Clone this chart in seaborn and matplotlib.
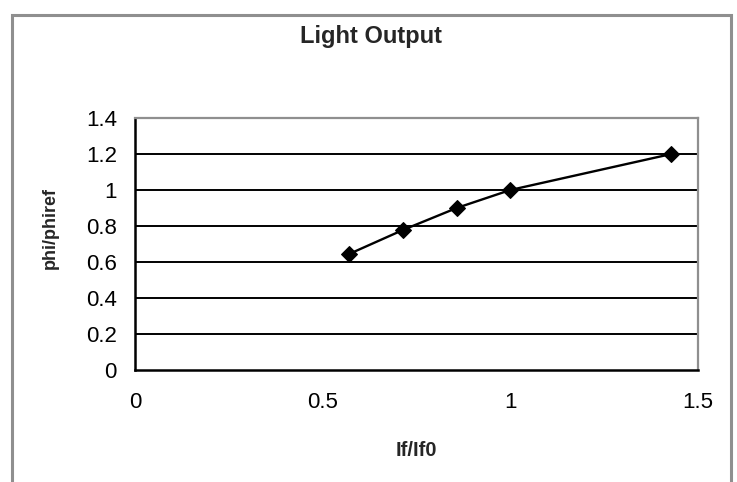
import numpy as np
import pandas as pd
import matplotlib.pyplot as plt
import seaborn as sns
from matplotlib.patches import Rectangle

# values
if_ratio = [0.571, 0.714, 0.857, 1.0, 1.429]
phi_ratio = [0.645, 0.778, 0.9, 1.0, 1.2]
x_ticks = [0, 0.5, 1, 1.5]
y_ticks = [0, 0.2, 0.4, 0.6, 0.8, 1, 1.2, 1.4]
x_labels = ['0', '0.5', '1', '1.5']
y_labels = ['0', '0.2', '0.4', '0.6', '0.8', '1', '1.2', '1.4']

data = pd.DataFrame({'If/If0': if_ratio, 'phi/phiref': phi_ratio})

sns.set_style('white')
plt.rcParams['font.family'] = ['Liberation Sans', 'DejaVu Sans']

fig = plt.figure(figsize=(7.37, 4.82), dpi=100)
ax = fig.add_axes([135 / 737, 1 - 370 / 482, 563 / 737, 252 / 482])

# outer chart border (Excel style)
fig.patches.append(Rectangle((12 / 737, -0.05), 719 / 737, 1.05 - 15 / 482,
                             transform=fig.transFigure, fill=False,
                             edgecolor='#8f8f8f', linewidth=2.2))

# horizontal gridlines
for y in y_ticks[1:-1]:
    ax.axhline(y, color='black', linewidth=1.4, zorder=1)

sns.lineplot(data=data, x='If/If0', y='phi/phiref', ax=ax, color='black',
             linewidth=1.7, marker='D', markersize=8, markeredgecolor='black',
             zorder=3)

ax.set_xlim(0, 1.5)
ax.set_ylim(0, 1.4)
ax.set_xticks(x_ticks)
ax.set_xticklabels(x_labels)
ax.set_yticks(y_ticks)
ax.set_yticklabels(y_labels)
ax.tick_params(axis='both', direction='out', length=6, width=1.5, color='black',
               labelsize=16, labelcolor='black')
ax.tick_params(axis='x', pad=10)
ax.tick_params(axis='y', pad=7)

for side in ['left', 'bottom']:
    ax.spines[side].set_color('black')
    ax.spines[side].set_linewidth(1.8)
for side in ['right', 'top']:
    ax.spines[side].set_visible(True)
    ax.spines[side].set_color('#8f8f8f')
    ax.spines[side].set_linewidth(1.6)

ax.set_xlabel('If/If0', fontsize=14.5, fontweight='bold', va='center')
ax.set_ylabel('phi/phiref', fontsize=13, fontweight='bold', va='center')
ax.xaxis.set_label_coords(0.5, (370 - 450) / 252)
ax.yaxis.set_label_coords((50 - 135) / 563, (370 - 228) / 252)

fig.text(371 / 737, 1 - 36 / 482, 'Light Output', fontsize=17,
         fontweight='bold', ha='center', va='center')

fig.savefig('out.png', dpi=100)
